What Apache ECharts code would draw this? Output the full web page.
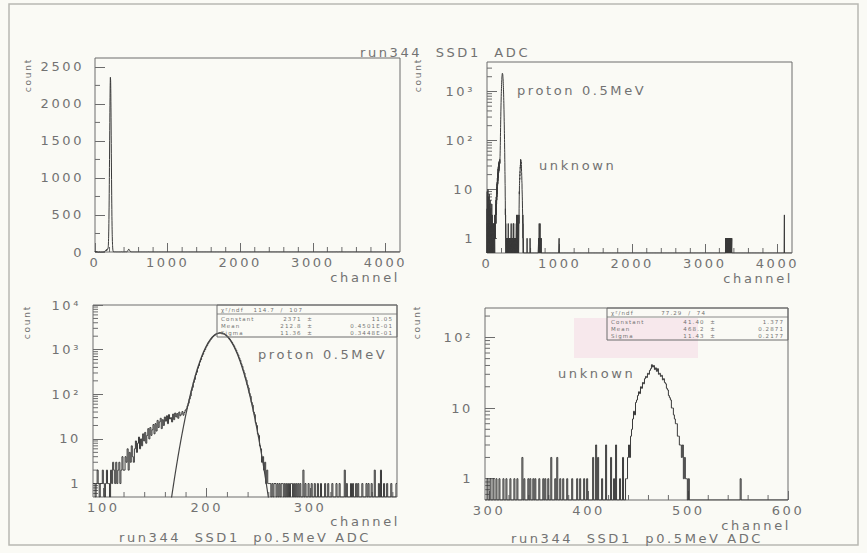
<!DOCTYPE html>
<html>
<head>
<meta charset="utf-8">
<script src="https://cdn.jsdelivr.net/npm/echarts@6/dist/echarts.min.js"></script>
<style>
  html, body { margin: 0; padding: 0; background: #fafaf5; }
  #chart { width: 867px; height: 553px; }
  /* wide-tracked lettering, as on the plotter output */
  #chart text { letter-spacing: 0.2em; }
</style>
</head>
<body>
<div id="chart"></div>
<script>
// ---- run344, SSD1 ADC: counts per ADC channel (one channel per bin) ----

// channels 90..184, low-energy tail under the proton line
const lowTailStart = 90;
const lowTail = [
  1, 1, 0, 1, 2, 1, 0, 1, 1, 2,
  1, 0, 1, 2, 1, 1, 0, 2, 1, 3,
  2, 1, 3, 1, 2, 3, 1, 2, 4, 2,
  2, 4, 3, 6, 2, 5, 3, 7, 4, 3,
  6, 9, 5, 8, 11, 6, 10, 7, 13, 9,
  14, 8, 12, 17, 10, 18, 12, 16, 21, 13,
  22, 15, 26, 18, 24, 29, 17, 27, 20, 31,
  25, 33, 22, 35, 28, 30, 24, 36, 27, 38,
  31, 37, 29, 40, 33, 36, 41, 34, 39, 44,
  47, 55, 63, 78, 92
];

// channels 185..259, proton 0.5 MeV line
const protonPeakStart = 185;
const protonPeak = [
  121, 143, 184, 215, 271, 311, 383, 437, 526, 596,
  701, 788, 909, 1006, 1142, 1249, 1391, 1502, 1643, 1749,
  1881, 1975, 2090, 2161, 2251, 2293, 2348, 2359, 2352, 2364,
  2320, 2286, 2209, 2142, 2036, 1947, 1820, 1715, 1578, 1466,
  1326, 1215, 1080, 977, 851, 760, 650, 575, 481, 422,
  346, 299, 240, 207, 162, 139, 105, 90, 66, 57,
  40, 35, 23, 20, 13, 12, 7, 6, 3, 4,
  2, 3, 1, 2, 1
];

// isolated hits between the two lines, [channel, count]
const scatterHits = [
  [260, 1], [261, 1], [263, 1], [265, 1], [266, 1], [268, 1], [270, 1], [272, 1], [273, 1], [275, 1],
  [277, 1], [279, 1], [281, 1], [282, 1], [284, 1], [286, 1], [288, 1], [290, 1], [293, 2], [295, 1],
  [298, 1], [301, 1], [304, 1], [307, 1], [310, 1], [314, 1], [317, 1], [321, 1], [325, 1], [328, 1],
  [333, 2], [335, 1], [339, 1], [341, 1], [344, 1], [346, 1], [350, 1], [354, 1], [356, 1], [359, 1],
  [362, 2], [366, 1], [368, 2], [371, 1], [374, 1], [378, 1], [383, 1],
  [388, 1], [391, 1], [395, 1], [398, 1], [404, 2], [407, 3], [409, 2], [413, 1], [417, 3], [422, 2],
  [425, 1], [427, 3], [431, 1], [434, 2], [437, 1]
];

// channels 438..500, the "unknown" line
const unknownPeakStart = 438;
const unknownPeak = [
  1, 2, 3, 2, 4, 5, 7, 9, 8, 12,
  13, 15, 17, 16, 20, 19, 23, 22, 26, 28,
  27, 31, 30, 34, 36, 41, 38, 40, 35, 37,
  33, 36, 30, 31, 28, 29, 25, 26, 23, 22,
  19, 18, 15, 14, 13, 10, 10, 8, 7, 6,
  6, 4, 4, 3, 3, 2, 3, 1, 2, 1,
  1, 0, 1
];

const farHits = [[552, 1]];

// only in the full-range spectrum (no p0.5MeV selection)
const pedestalHits = [
  [1, 4], [3, 9], [6, 2], [8, 6], [11, 3], [13, 10], [16, 5], [19, 2], [22, 7], [25, 3],
  [28, 4], [31, 8], [34, 2], [37, 5], [41, 3], [44, 6], [47, 2], [51, 4], [55, 1], [58, 3],
  [62, 2], [66, 5], [70, 1], [73, 3], [77, 2], [81, 1], [85, 2], [88, 1]
];
const highHits = [
  [593, 1],
  [712, 1], [716, 1], [719, 2], [722, 1], [725, 1], [728, 1], [731, 2], [734, 1], [738, 1], [742, 1], [746, 1],
  [993, 1],
  [3285, 1], [3291, 1], [3296, 1], [3302, 1], [3307, 1], [3313, 1], [3318, 1], [3324, 1], [3330, 1],
  [3336, 1], [3341, 1], [3347, 1], [3352, 1], [3358, 1], [3364, 1], [3371, 1],
  [4095, 3]
];

// Gaussian fit results: Constant, Mean, Sigma (values and errors as printed)
const statLabels = ['Constant', 'Mean', 'Sigma'];
const protonFitVals = ['2371', '212.8', '11.36'];
const protonFitErrs = ['11.05', '0.4501E-01', '0.3448E-01'];
const protonChi2 = ['114.7', '107'];
const unknownFitVals = ['41.40', '468.2', '11.43'];
const unknownFitErrs = ['1.377', '0.2871', '0.2177'];
const unknownChi2 = ['77.29', '74'];

// ---------------------------------------------------------------------
const FONT = 'DejaVu Sans';
const INK = '#727272';
const FRAME = '#6c6c6c';
const LINE = '#3a3a3a';

function buildCounts(parts) {
  const m = new Map();
  const add = (c, n) => m.set(c, (m.get(c) || 0) + n);
  parts.forEach(p => {
    if (p.values) p.values.forEach((n, i) => add(p.start + i, n));
    else p.hits.forEach(([c, n]) => add(c, n));
  });
  return m;
}
const selectedParts = [
  { start: lowTailStart, values: lowTail },
  { start: protonPeakStart, values: protonPeak },
  { hits: scatterHits },
  { start: unknownPeakStart, values: unknownPeak },
  { hits: farHits }
];
const pCounts = buildCounts(selectedParts);
const fullCounts = buildCounts(selectedParts.concat([{ hits: pedestalHits }, { hits: highHits }]));

// histogram outline: one point per bin edge, drawn as a step line
function stepData(counts, from, to, floor) {
  const d = [];
  for (let c = from; c < to; c++) d.push([c, Math.max(counts.get(c) || 0, floor)]);
  d.push([to, d[d.length - 1][1]]);
  return d;
}

// fitted Gaussian from the printed parameters
function gaussCurve(vals, from, to, step) {
  const C = Number(vals[0]), mu = Number(vals[1]), s = Number(vals[2]);
  const d = [];
  for (let x = from; x <= to + 1e-9; x += step) d.push([x, C * Math.exp(-(x - mu) * (x - mu) / (2 * s * s))]);
  return d;
}

// minor tick positions
function steps(a, b, st, skipMult) {
  const r = [];
  for (let v = a; v <= b + 1e-9; v += st) {
    if (skipMult && Math.abs(v / skipMult - Math.round(v / skipMult)) < 1e-6) continue;
    r.push(v);
  }
  return r;
}
function logMinors(lo, hi) {
  const r = [];
  for (let k = -1; k <= 4; k++) for (let m = 2; m <= 9; m++) {
    const v = m * Math.pow(10, k);
    if (v > lo * 1.0001 && v < hi * 0.9999) r.push(v);
  }
  return r;
}

const SUP = { 2: '\u00B2', 3: '\u00B3', 4: '\u2074' };
function logLabel(v) {
  const k = Math.round(Math.log10(v));
  if (k === 0) return '1';
  if (k === 1) return '10';
  return '10' + SUP[k];
}
const plainLabel = v => String(v);

const panels = [
  { grid: { left: 95, top: 58, width: 305, height: 194 }, x: [0, 4200], y: [0, 2620], log: false },
  { grid: { left: 487, top: 62, width: 305, height: 191 }, x: [0, 4200], y: [0.5, 4000], log: true },
  { grid: { left: 93, top: 305, width: 304, height: 192 }, x: [90, 384], y: [0.5, 10000], log: true },
  { grid: { left: 485, top: 308, width: 303, height: 192 }, x: [296, 600], y: [0.5, 260], log: true }
];

const labelStyle = { color: INK, fontFamily: FONT, fontSize: 13 };

const xAxes = panels.map((p, i) => {
  const full = p.x[0] === 0;
  return {
    type: 'value', gridIndex: i, min: p.x[0], max: p.x[1],
    interval: full ? 1000 : undefined,
    splitNumber: full ? undefined : 3,
    axisLine: { show: false },
    axisTick: { show: true, inside: true, length: 9, lineStyle: { color: FRAME } },
    splitLine: { show: false },
    axisLabel: Object.assign({ margin: 4, showMinLabel: full, showMaxLabel: i === 3, formatter: plainLabel }, labelStyle)
  };
});

const yAxes = panels.map((p, i) => {
  const base = {
    gridIndex: i, min: p.y[0], max: p.y[1],
    axisLine: { show: false },
    axisTick: { show: true, inside: true, length: 10, lineStyle: { color: FRAME } },
    splitLine: { show: false }
  };
  if (!p.log) {
    return Object.assign(base, {
      type: 'value', interval: 500,
      axisLabel: Object.assign({ margin: 11, showMaxLabel: false, formatter: plainLabel }, labelStyle)
    });
  }
  return Object.assign(base, {
    type: 'log', logBase: 10,
    axisLabel: Object.assign({ margin: 12, showMinLabel: false, showMaxLabel: i === 2, formatter: logLabel }, labelStyle)
  });
});

// minor ticks: [x, y, 0] along the x axis, [x, y, 1] along the y axis
function tickSeries(i, xs, ys) {
  const p = panels[i];
  const data = xs.map(v => [v, p.y[0], 0]).concat(ys.map(v => [p.x[0], v, 1]));
  return {
    type: 'custom', xAxisIndex: i, yAxisIndex: i, silent: true, clip: false, z: 3,
    data,
    renderItem: (params, api) => {
      const pt = api.coord([api.value(0), api.value(1)]);
      const alongY = api.value(2) === 1;
      return {
        type: 'line',
        shape: alongY ? { x1: pt[0], y1: pt[1], x2: pt[0] + 5, y2: pt[1] }
                      : { x1: pt[0], y1: pt[1], x2: pt[0], y2: pt[1] - 5 },
        style: { stroke: FRAME, lineWidth: 1 }
      };
    }
  };
}

function histSeries(i, data) {
  return {
    type: 'line', xAxisIndex: i, yAxisIndex: i, step: 'end', data,
    symbol: 'none', showSymbol: false, clip: true, silent: true,
    lineStyle: { color: LINE, width: 1 }, z: 4
  };
}

const series = [
  histSeries(0, stepData(fullCounts, 0, 4200, 0)),
  histSeries(1, stepData(fullCounts, 0, 4200, 0.5)),
  histSeries(2, stepData(pCounts, 90, 384, 0.5)),
  {
    type: 'line', xAxisIndex: 2, yAxisIndex: 2, data: gaussCurve(protonFitVals, 150, 276, 0.25),
    symbol: 'none', showSymbol: false, clip: true, silent: true,
    lineStyle: { color: '#454545', width: 1.2 }, z: 5
  },
  histSeries(3, stepData(pCounts, 296, 600, 0.5)),
  tickSeries(0, steps(200, 4000, 200, 1000), steps(250, 2500, 250, 500)),
  tickSeries(1, steps(200, 4000, 200, 1000), logMinors(0.5, 4000)),
  tickSeries(2, steps(100, 380, 20, 100), logMinors(0.5, 10000)),
  tickSeries(3, steps(300, 600, 20, 100), logMinors(0.5, 260))
];

// ---- free text, frames and fit boxes ----
function T(x, y, text, o) {
  o = o || {};
  const align = o.align || 'left';
  return {
    type: 'text', x, y, rotation: o.rotation || 0, silent: true, z: 20,
    style: {
      text, fill: o.fill || INK,
      font: (o.size || 13) + 'px "' + FONT + '"',
      align, textAlign: align, verticalAlign: 'middle', textVerticalAlign: 'middle'
    }
  };
}

function statBox(x0, y0, w, chi, vals, errs, valRight) {
  const S = 5.5;
  const els = [
    { type: 'rect', z: 18, silent: true, shape: { x: x0, y: y0, width: w, height: 32 },
      style: { fill: 'none', stroke: FRAME, lineWidth: 1 } },
    { type: 'line', z: 18, silent: true, shape: { x1: x0, y1: y0 + 9, x2: x0 + w, y2: y0 + 9 },
      style: { stroke: FRAME, lineWidth: 0.8 } },
    T(x0 + 4, y0 + 5, '\u03C7\u00B2/ndf', { size: S }),
    T(valRight - 10, y0 + 5, chi[0] + '  /  ' + chi[1], { size: S, align: 'right' })
  ];
  statLabels.forEach((lab, k) => {
    const y = y0 + 14 + k * 7;
    els.push(T(x0 + 4, y, lab, { size: S }));
    els.push(T(valRight, y, vals[k] + '  \u00B1', { size: S, align: 'right' }));
    els.push(T(x0 + w - 4, y, errs[k], { size: S, align: 'right' }));
  });
  return els;
}

const graphic = [
  { type: 'rect', z: 1, silent: true, shape: { x: 9, y: 4, width: 849, height: 541 },
    style: { fill: 'none', stroke: '#b8b8b2', lineWidth: 1.5 } },
  { type: 'rect', z: 1, silent: true, shape: { x: 574, y: 318, width: 124, height: 40 },
    style: { fill: 'rgba(236,170,205,0.22)' } },

  T(445, 52, 'run344  SSD1  ADC', { align: 'center' }),

  T(28, 75, 'count', { size: 9, align: 'center', rotation: Math.PI / 2 }),
  T(418, 75, 'count', { size: 9, align: 'center', rotation: Math.PI / 2 }),
  T(27, 322, 'count', { size: 9, align: 'center', rotation: Math.PI / 2 }),
  T(417, 322, 'count', { size: 9, align: 'center', rotation: Math.PI / 2 }),

  T(400, 277, 'channel', { align: 'right' }),
  T(793, 278, 'channel', { align: 'right' }),
  T(400, 521, 'channel', { align: 'right' }),
  T(791, 525, 'channel', { align: 'right' }),

  T(245, 537, 'run344  SSD1  p0.5MeV ADC', { align: 'center' }),
  T(637, 538, 'run344  SSD1  p0.5MeV ADC', { align: 'center' }),

  T(517, 90, 'proton 0.5MeV'),
  T(539, 165, 'unknown'),
  T(258, 354, 'proton 0.5MeV'),
  T(558, 373, 'unknown')
]
  .concat(statBox(217, 305, 180, protonChi2, protonFitVals, protonFitErrs, 313))
  .concat(statBox(607, 308, 181, unknownChi2, unknownFitVals, unknownFitErrs, 716));

const chart = echarts.init(document.getElementById('chart'), null, { renderer: 'svg' });
chart.setOption({
  animation: false,
  backgroundColor: '#fafaf5',
  grid: panels.map(p => Object.assign({ show: true, borderColor: FRAME, borderWidth: 1, backgroundColor: 'transparent' }, p.grid)),
  xAxis: xAxes,
  yAxis: yAxes,
  series,
  graphic
});
</script>
</body>
</html>
